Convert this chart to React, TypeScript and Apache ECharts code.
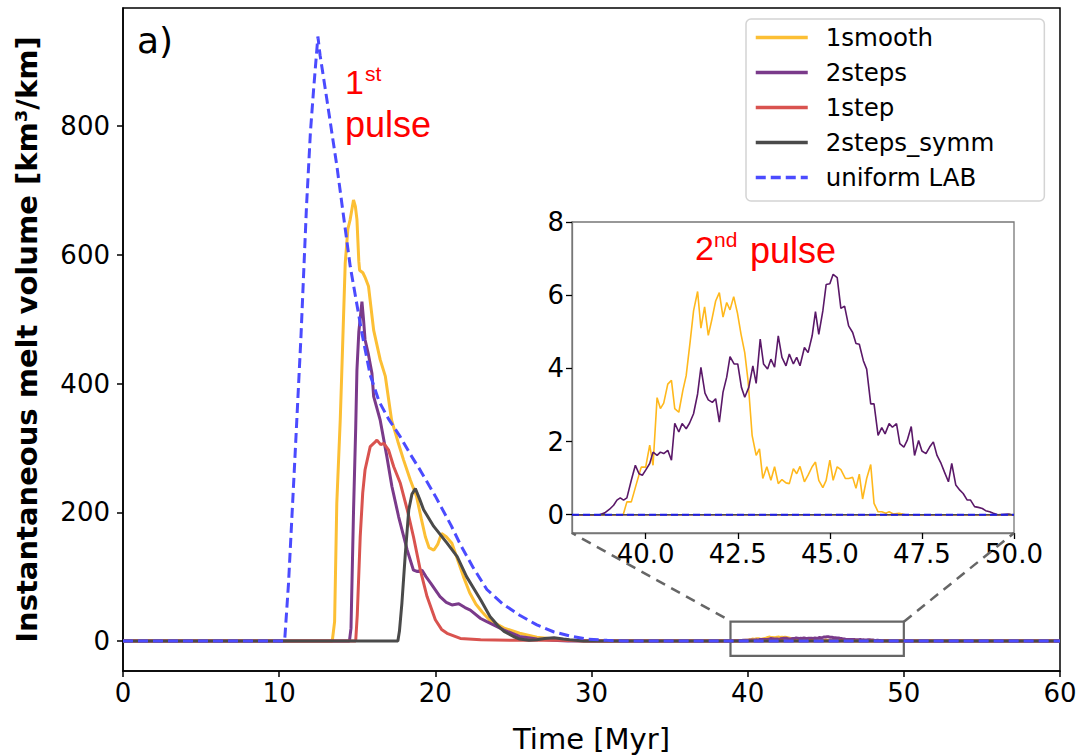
import React, { useEffect, useRef } from "react";
import * as echarts from "echarts";

// ---------- data (time [Myr], melt volume [km3/km]) ----------
const seriesNames = ["1smooth", "2steps", "1step", "2steps_symm", "uniform LAB"];

const smoothPulse1: number[][] = [
  [13.4, 0], [13.55, 30], [13.69, 214], [13.91, 343], [14.0, 410], [14.23, 587], [14.4, 640],
  [14.55, 655], [14.76, 685], [14.88, 675], [14.98, 655], [15.1, 590], [15.15, 576], [15.36, 572],
  [15.5, 565], [15.72, 551], [16.05, 483], [16.47, 437], [16.8, 411], [17.2, 343], [17.6, 310],
  [17.97, 281], [18.4, 250], [18.8, 224], [19.1, 190], [19.36, 162], [19.6, 145], [19.9, 141],
  [20.15, 150], [20.4, 167], [20.7, 162], [21.06, 152], [21.4, 128], [21.8, 100], [22.2, 75],
  [22.6, 57], [23.0, 45], [23.5, 32], [24.4, 20], [25.4, 12], [26.5, 6], [27.6, 3], [28.5, 1], [29.5, 0],
];

const stepsPulse1: number[][] = [
  [14.5, 0], [14.6, 20], [14.76, 200], [14.9, 330], [14.98, 421], [15.1, 480], [15.3, 527],
  [15.4, 500], [15.5, 468], [15.7, 447], [15.94, 416], [16.05, 380], [16.47, 343], [16.9, 286],
  [17.22, 240], [17.65, 193], [18.2, 141], [18.6, 110], [18.85, 108], [19.15, 110], [19.4, 100],
  [19.7, 90], [20.3, 69], [20.7, 60], [21.06, 56], [21.5, 58], [21.9, 52], [22.24, 48], [22.9, 35],
  [23.3, 30], [24.4, 17], [25.4, 7], [26.5, 3], [27.5, 1], [28.5, 0],
];

const stepPulse1: number[][] = [
  [14.9, 0], [15.0, 40], [15.19, 162], [15.35, 230], [15.5, 266], [15.83, 302], [16.1, 308],
  [16.26, 312], [16.5, 305], [16.7, 307], [17.0, 297], [17.33, 271], [17.76, 245], [18.2, 204],
  [18.6, 162], [19.04, 110], [19.47, 69], [20.0, 33], [20.4, 18], [20.75, 12], [21.6, 4],
  [22.9, 2], [25, 1], [28, 1], [30, 0],
];

const symmPulse1: number[][] = [
  [17.6, 0], [17.7, 15], [17.86, 59], [18.08, 136], [18.3, 204], [18.5, 228], [18.72, 237],
  [19.0, 220], [19.25, 204], [19.9, 178], [20.75, 152], [21.4, 131], [22.0, 100], [22.5, 80],
  [22.9, 64], [23.5, 38], [24.0, 24], [24.4, 15], [25.0, 7], [25.4, 3], [26.0, 1], [26.5, 2],
  [27.0, 4], [27.6, 5], [28.2, 3], [28.6, 2], [29.5, 0],
];

const uniformPulse1: number[][] = [
  [10.35, 0], [10.6, 90], [11.0, 280], [11.4, 475], [11.75, 675], [12.0, 790], [12.2, 855],
  [12.48, 939], [12.62, 910], [13.0, 850], [13.7, 737], [14.55, 582], [15.3, 478], [15.83, 413],
  [16.4, 372], [17.0, 345], [17.76, 317], [18.4, 290], [19.04, 265], [20.0, 225], [21.0, 180],
  [21.6, 150], [22.4, 115], [23.3, 80], [24.3, 58], [25.4, 40], [26.5, 25], [27.6, 14],
  [28.6, 8], [29.7, 3], [31, 1], [32, 0],
];

const smoothPulse2: number[][] = [
  [39.39, 0], [39.49, 0.35], [39.61, 0.35], [39.75, 0.85], [39.88, 1.3], [40.0, 1.3], [40.11, 1.9],
  [40.2, 1.35], [40.31, 3.2], [40.4, 2.9], [40.49, 3.05], [40.6, 3.57], [40.7, 3.67], [40.79, 2.9],
  [40.9, 2.8], [41.01, 3.4], [41.1, 3.8], [41.21, 4.75], [41.3, 5.57], [41.41, 6.1], [41.5, 5.1],
  [41.6, 5.68], [41.7, 4.9], [41.79, 5.3], [41.9, 5.84], [42.0, 6.07], [42.1, 5.4], [42.2, 5.8],
  [42.29, 5.6], [42.39, 5.96], [42.49, 5.52], [42.59, 4.93], [42.69, 4.43], [42.78, 3.66],
  [42.89, 2.17], [43.0, 1.62], [43.09, 1.8], [43.18, 0.99], [43.29, 1.31], [43.4, 0.94],
  [43.5, 1.31], [43.6, 0.85], [43.7, 0.96], [43.81, 0.87], [43.9, 0.85], [44.01, 1.26],
  [44.1, 1.12], [44.19, 1.32], [44.31, 0.9], [44.41, 1.08], [44.52, 1.31], [44.61, 1.44],
  [44.7, 0.94], [44.81, 0.74], [44.9, 0.94], [45.0, 1.49], [45.09, 0.94], [45.2, 1.31],
  [45.3, 1.23], [45.42, 0.99], [45.51, 0.99], [45.62, 1.02], [45.71, 0.72], [45.8, 1.11],
  [45.89, 0.43], [46.0, 0.99], [46.11, 1.37], [46.2, 0.31], [46.31, 0.08], [46.41, 0.08],
  [46.52, 0.04], [46.61, 0.08], [46.72, 0.02], [46.88, 0.04], [47.06, 0],
];

const stepsPulse2: number[][] = [
  [38.75, 0], [38.89, 0.05], [39.02, 0.15], [39.13, 0.26], [39.22, 0.4], [39.31, 0.46], [39.4, 0.4],
  [39.49, 0.46], [39.61, 0.94], [39.72, 1.35], [39.82, 1.12], [39.91, 1.08], [40.0, 1.22],
  [40.11, 1.4], [40.2, 1.71], [40.31, 1.62], [40.4, 1.71], [40.49, 1.67], [40.6, 1.76], [40.7, 1.49],
  [40.79, 2.5], [40.9, 2.26], [40.99, 2.49], [41.1, 2.35], [41.19, 2.5], [41.3, 2.76], [41.41, 3.3],
  [41.5, 4.03], [41.61, 3.32], [41.7, 3.14], [41.81, 3.07], [41.9, 3.17], [42.0, 2.53], [42.1, 3.35],
  [42.2, 3.76], [42.29, 4.32], [42.4, 4.12], [42.5, 4.12], [42.6, 3.48], [42.69, 3.21], [42.8, 3.48],
  [42.91, 4.07], [43.0, 3.59], [43.11, 4.8], [43.2, 4.12], [43.31, 3.98], [43.4, 4.25], [43.5, 4.03],
  [43.6, 4.89], [43.7, 4.3], [43.81, 4.07], [43.9, 4.39], [44.01, 4.12], [44.1, 4.3], [44.19, 4.07],
  [44.31, 4.57], [44.41, 4.43], [44.52, 4.89], [44.61, 5.55], [44.7, 4.93], [44.81, 5.57],
  [44.9, 6.29], [45.0, 6.31], [45.09, 6.57], [45.2, 6.48], [45.3, 5.64], [45.4, 5.7], [45.51, 5.16],
  [45.62, 4.98], [45.71, 4.68], [45.8, 4.66], [45.91, 4.21], [46.0, 3.98], [46.11, 3.03], [46.2, 3.03],
  [46.31, 2.17], [46.41, 2.38], [46.5, 2.21], [46.61, 2.49], [46.7, 2.39], [46.81, 2.49], [46.9, 1.94],
  [47.01, 1.85], [47.1, 2.03], [47.21, 2.41], [47.3, 1.62], [47.41, 2.03], [47.5, 1.74], [47.61, 1.67],
  [47.71, 1.85], [47.81, 1.99], [47.91, 1.62], [48.02, 1.4], [48.11, 1.17], [48.22, 0.9], [48.31, 1.4],
  [48.42, 0.81], [48.53, 0.67], [48.62, 0.58], [48.73, 0.4], [48.82, 0.4], [48.93, 0.22], [49.03, 0.2],
  [49.14, 0.17], [49.23, 0.11], [49.34, 0.08], [49.44, 0.04], [49.56, 0], [49.86, 0.02], [49.95, 0],
];

const mainXTicks = [0, 10, 20, 30, 40, 50, 60];
const mainYTicks = [0, 200, 400, 600, 800];
const insetXTicks = [40, 42.5, 45, 47.5, 50];
const insetYTicks = [0, 2, 4, 6, 8];

const mainColors = ["#fcbf34", "#7a3a8a", "#d9534f", "#4a4a4a", "#4b4bff"];
const insetColors = ["#ffb81c", "#5a1868", "#d9534f", "#4a4a4a", "#1e1ee6"];

const zoomBox = { x0: 38.9, x1: 50, y0: -23, y1: 30 };

export default function App() {
  const ref = useRef<HTMLDivElement>(null);

  useEffect(() => {
    if (!ref.current) return;
    const chart = echarts.init(ref.current, undefined, { renderer: "svg" });

    const full = (p1: number[][], p2: number[][]) => [[0, 0], ...p1, ...p2, [60, 0]];
    const mainData = [
      full(smoothPulse1, smoothPulse2),
      full(stepsPulse1, stepsPulse2),
      full(stepPulse1, []),
      full(symmPulse1, []),
      full(uniformPulse1, []),
    ];
    const insetData = [
      [[38, 0], ...smoothPulse2, [50, 0]],
      [[38, 0], ...stepsPulse2, [50, 0]],
      [[38, 0], [50, 0]],
      [[38, 0], [50, 0]],
      [[38, 0], [50, 0]],
    ];

    const tickFont = "DejaVu Sans";
    const mainSeries = seriesNames.map((name, i) => ({
      name,
      type: "line",
      xAxisIndex: 0,
      yAxisIndex: 0,
      data: mainData[i],
      showSymbol: false,
      symbol: "none",
      z: 2,
      lineStyle: {
        color: mainColors[i],
        width: 3,
        type: i === 4 ? [10, 5] : "solid",
      },
      itemStyle: { color: mainColors[i] },
      ...(i === 3
        ? {
            markArea: {
              silent: true,
              label: { show: false },
              itemStyle: { color: "rgba(0,0,0,0)", borderColor: "#666", borderWidth: 2.2 },
              data: [[{ coord: [zoomBox.x0, zoomBox.y0] }, { coord: [zoomBox.x1, zoomBox.y1] }]],
            },
          }
        : {}),
    }));
    const insetSeries = seriesNames.map((name, i) => ({
      name: "inset " + name,
      type: "line",
      xAxisIndex: 1,
      yAxisIndex: 1,
      data: insetData[i],
      showSymbol: false,
      symbol: "none",
      z: 7,
      clip: true,
      lineStyle: {
        color: insetColors[i],
        width: i === 4 ? 2 : 1.6,
        type: i === 4 ? [7, 4] : "solid",
      },
    }));

    const option: any = {
      animation: false,
      grid: [
        { left: 123, top: 8, right: 17, bottom: 84, show: true, borderColor: "#000", borderWidth: 1.5, backgroundColor: "rgba(0,0,0,0)", z: 0, outerBoundsMode: "none", containLabel: false },
        { left: 572, top: 222, right: 63, bottom: 222, show: true, borderColor: "#777", borderWidth: 1.3, backgroundColor: "#fff", z: 5, outerBoundsMode: "none", containLabel: false },
      ],
      xAxis: [
        {
          type: "value", gridIndex: 0, min: 0, max: 60, interval: 10,
          axisLine: { show: true, onZero: false, lineStyle: { color: "#000", width: 1.5 } },
          axisTick: { show: true, length: 6, customValues: mainXTicks, lineStyle: { color: "#000", width: 1.5 } },
          axisLabel: { fontSize: 26, color: "#000", fontFamily: tickFont, margin: 9, customValues: mainXTicks },
          splitLine: { show: false },
          name: "Time [Myr]", nameLocation: "middle", nameGap: 53,
          nameTextStyle: { fontSize: 29, fontFamily: tickFont, color: "#000" },
        },
        {
          type: "value", gridIndex: 1, min: 38, max: 50, z: 6,
          axisLine: { show: true, onZero: false, lineStyle: { color: "#777", width: 1.3 } },
          axisTick: { show: true, length: 6, customValues: insetXTicks, lineStyle: { color: "#000", width: 1.3 } },
          axisLabel: {
            fontSize: 26, color: "#000", fontFamily: tickFont, margin: 8, customValues: insetXTicks,
            formatter: (v: number) => v.toFixed(1),
          },
          splitLine: { show: false },
        },
      ],
      yAxis: [
        {
          type: "value", gridIndex: 0, min: -46.6, max: 983.3,
          axisLine: { show: true, onZero: false, lineStyle: { color: "#000", width: 1.5 } },
          axisTick: { show: true, length: 6, customValues: mainYTicks, lineStyle: { color: "#000", width: 1.5 } },
          axisLabel: { fontSize: 26, color: "#000", fontFamily: tickFont, margin: 13, customValues: mainYTicks },
          splitLine: { show: false },
          name: "Instantaneous melt volume [km³/km]", nameLocation: "middle", nameGap: 82, nameRotate: 90,
          nameTextStyle: { fontSize: 29, fontFamily: tickFont, fontWeight: "bold", color: "#000" },
        },
        {
          type: "value", gridIndex: 1, min: -0.5, max: 8, z: 6,
          axisLine: { show: true, onZero: false, lineStyle: { color: "#777", width: 1.3 } },
          axisTick: { show: true, length: 6, customValues: insetYTicks, lineStyle: { color: "#000", width: 1.3 } },
          axisLabel: { fontSize: 26, color: "#000", fontFamily: tickFont, margin: 8, customValues: insetYTicks },
          splitLine: { show: false },
        },
      ],
      legend: {
        data: seriesNames,
        orient: "vertical",
        left: 746,
        top: 19,
        itemWidth: 52,
        itemHeight: 14,
        itemGap: 10,
        padding: [6, 50, 11, 8],
        backgroundColor: "#fff",
        borderColor: "#d4d4d4",
        borderWidth: 1.5,
        borderRadius: 5,
        selectedMode: false,
        z: 10,
        itemStyle: { opacity: 0, borderWidth: 0 },
        lineStyle: { width: 3.5 },
        textStyle: { fontSize: 24.5, fontFamily: tickFont, color: "#000", lineHeight: 23, padding: [0, 0, 0, 13] },
      },
      series: [...mainSeries, ...insetSeries],
    };
    chart.setOption(option);

    // connector lines between zoom box and inset, via the axes' own scales
    const a = chart.convertToPixel({ gridIndex: 0 }, [zoomBox.x0, zoomBox.y1]) as number[];
    const b = chart.convertToPixel({ gridIndex: 0 }, [zoomBox.x1, zoomBox.y1]) as number[];
    const c = chart.convertToPixel({ gridIndex: 1 }, [38, -0.5]) as number[];
    const d = chart.convertToPixel({ gridIndex: 1 }, [50, -0.5]) as number[];
    const dash = { stroke: "#666", lineWidth: 2.5, lineDash: [10, 7] };
    const red = "#ff0000";
    const annot = "Liberation Sans";
    chart.setOption({
      graphic: [
        { type: "line", z: 8, shape: { x1: a[0] - 6, y1: a[1] - 4, x2: c[0], y2: c[1] }, style: dash },
        { type: "line", z: 8, shape: { x1: b[0], y1: b[1], x2: d[0], y2: d[1] }, style: dash },
        { type: "text", z: 10, x: 137, y: 40, style: { text: "a)", font: '36px "DejaVu Sans"', fill: "#000", verticalAlign: "middle" } },
        { type: "text", z: 10, x: 345, y: 82, style: { text: "1", font: `34px "${annot}"`, fill: red, verticalAlign: "middle" } },
        { type: "text", z: 10, x: 365, y: 73, style: { text: "st", font: `21px "${annot}"`, fill: red, verticalAlign: "middle" } },
        { type: "text", z: 10, x: 345, y: 124, style: { text: "pulse", font: `36px "${annot}"`, fill: red, verticalAlign: "middle" } },
        { type: "text", z: 10, x: 695, y: 248, style: { text: "2", font: `34px "${annot}"`, fill: red, verticalAlign: "middle" } },
        { type: "text", z: 10, x: 714, y: 239, style: { text: "nd", font: `21px "${annot}"`, fill: red, verticalAlign: "middle" } },
        { type: "text", z: 10, x: 750, y: 250, style: { text: "pulse", font: `36px "${annot}"`, fill: red, verticalAlign: "middle" } },
      ],
    });

    return () => chart.dispose();
  }, []);

  return (
    <div
      ref={ref}
      style={{ position: "absolute", left: 0, top: 0, width: 1077, height: 755, background: "#fff" }}
    />
  );
}
